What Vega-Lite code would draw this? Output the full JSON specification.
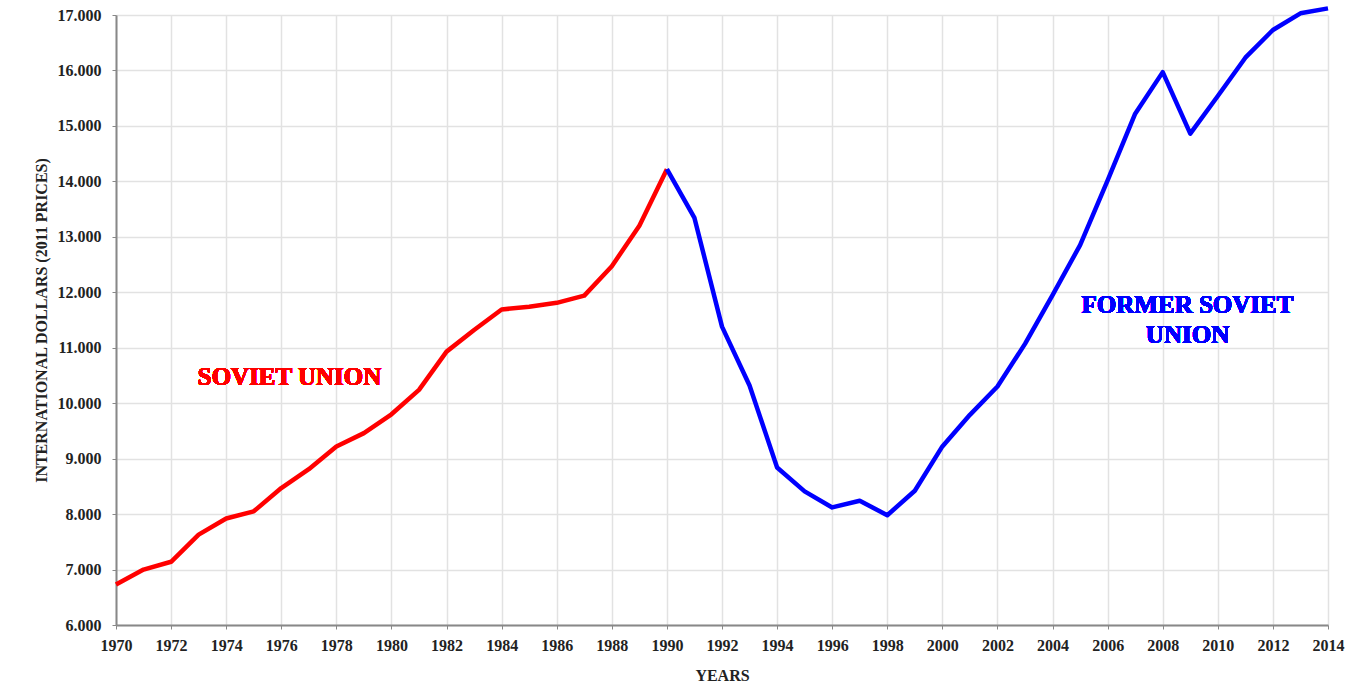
{
  "$schema": "https://vega.github.io/schema/vega-lite/v6.json",
  "width": 1212,
  "height": 610,
  "autosize": {"type": "none"},
  "padding": {"left": 116, "top": 15, "right": 35, "bottom": 75},
  "background": "white",
  "config": {"view": {"stroke": null}},
  "data": {"values": [
    {"year": 1970, "gdp": 6730, "series": "Soviet Union"},
    {"year": 1971, "gdp": 7000, "series": "Soviet Union"},
    {"year": 1972, "gdp": 7140, "series": "Soviet Union"},
    {"year": 1973, "gdp": 7630, "series": "Soviet Union"},
    {"year": 1974, "gdp": 7920, "series": "Soviet Union"},
    {"year": 1975, "gdp": 8050, "series": "Soviet Union"},
    {"year": 1976, "gdp": 8470, "series": "Soviet Union"},
    {"year": 1977, "gdp": 8810, "series": "Soviet Union"},
    {"year": 1978, "gdp": 9220, "series": "Soviet Union"},
    {"year": 1979, "gdp": 9460, "series": "Soviet Union"},
    {"year": 1980, "gdp": 9800, "series": "Soviet Union"},
    {"year": 1981, "gdp": 10240, "series": "Soviet Union"},
    {"year": 1982, "gdp": 10930, "series": "Soviet Union"},
    {"year": 1983, "gdp": 11320, "series": "Soviet Union"},
    {"year": 1984, "gdp": 11690, "series": "Soviet Union"},
    {"year": 1985, "gdp": 11740, "series": "Soviet Union"},
    {"year": 1986, "gdp": 11810, "series": "Soviet Union"},
    {"year": 1987, "gdp": 11940, "series": "Soviet Union"},
    {"year": 1988, "gdp": 12470, "series": "Soviet Union"},
    {"year": 1989, "gdp": 13200, "series": "Soviet Union"},
    {"year": 1990, "gdp": 14220, "series": "Soviet Union"},
    {"year": 1990, "gdp": 14220, "series": "Former Soviet Union"},
    {"year": 1991, "gdp": 13340, "series": "Former Soviet Union"},
    {"year": 1992, "gdp": 11380, "series": "Former Soviet Union"},
    {"year": 1993, "gdp": 10320, "series": "Former Soviet Union"},
    {"year": 1994, "gdp": 8840, "series": "Former Soviet Union"},
    {"year": 1995, "gdp": 8410, "series": "Former Soviet Union"},
    {"year": 1996, "gdp": 8120, "series": "Former Soviet Union"},
    {"year": 1997, "gdp": 8240, "series": "Former Soviet Union"},
    {"year": 1998, "gdp": 7980, "series": "Former Soviet Union"},
    {"year": 1999, "gdp": 8420, "series": "Former Soviet Union"},
    {"year": 2000, "gdp": 9220, "series": "Former Soviet Union"},
    {"year": 2001, "gdp": 9790, "series": "Former Soviet Union"},
    {"year": 2002, "gdp": 10300, "series": "Former Soviet Union"},
    {"year": 2003, "gdp": 11070, "series": "Former Soviet Union"},
    {"year": 2004, "gdp": 11950, "series": "Former Soviet Union"},
    {"year": 2005, "gdp": 12850, "series": "Former Soviet Union"},
    {"year": 2006, "gdp": 14020, "series": "Former Soviet Union"},
    {"year": 2007, "gdp": 15220, "series": "Former Soviet Union"},
    {"year": 2008, "gdp": 15970, "series": "Former Soviet Union"},
    {"year": 2009, "gdp": 14860, "series": "Former Soviet Union"},
    {"year": 2010, "gdp": 15540, "series": "Former Soviet Union"},
    {"year": 2011, "gdp": 16230, "series": "Former Soviet Union"},
    {"year": 2012, "gdp": 16730, "series": "Former Soviet Union"},
    {"year": 2013, "gdp": 17030, "series": "Former Soviet Union"},
    {"year": 2014, "gdp": 17120, "series": "Former Soviet Union"}
  ]},
  "layer": [
    {
      "mark": {"type": "line", "strokeWidth": 4.5, "clip": false, "strokeJoin": "round"},
      "encoding": {
        "x": {
          "field": "year", "type": "quantitative",
          "scale": {"domain": [1970, 2014], "nice": false, "zero": false},
          "axis": {
            "title": "YEARS",
            "values": [1970,1972,1974,1976,1978,1980,1982,1984,1986,1988,1990,1992,1994,1996,1998,2000,2002,2004,2006,2008,2010,2012,2014],
            "format": "d",
            "labelFlush": false,
            "labelFont": "Liberation Serif", "labelFontWeight": "bold", "labelFontSize": 16, "labelColor": "#222",
            "labelPadding": 8,
            "titleFont": "Liberation Serif", "titleFontWeight": "bold", "titleFontSize": 16, "titleColor": "#222",
            "titlePadding": 14,
            "grid": true, "gridColor": "#e2e2e2", "gridWidth": 1.5,
            "domainColor": "#888", "domainWidth": 2,
            "tickColor": "#888", "tickSize": 4
          }
        },
        "y": {
          "field": "gdp", "type": "quantitative",
          "scale": {"domain": [6000, 17000], "nice": false, "zero": false},
          "axis": {
            "title": "INTERNATIONAL DOLLARS (2011 PRICES)",
            "values": [6000,7000,8000,9000,10000,11000,12000,13000,14000,15000,16000,17000],
            "labelExpr": "replace(format(datum.value, ','), ',', '.')",
            "labelFlush": false,
            "labelFont": "Liberation Serif", "labelFontWeight": "bold", "labelFontSize": 16, "labelColor": "#222",
            "labelPadding": 11,
            "titleFont": "Liberation Serif", "titleFontWeight": "bold", "titleFontSize": 16, "titleColor": "#222",
            "titlePadding": 8,
            "grid": true, "gridColor": "#e2e2e2", "gridWidth": 1.5,
            "domainColor": "#888", "domainWidth": 2,
            "tickColor": "#888", "tickSize": 4
          }
        },
        "color": {
          "field": "series", "type": "nominal",
          "scale": {"domain": ["Soviet Union", "Former Soviet Union"], "range": ["#ff0000", "#0000ff"]},
          "legend": null
        },
        "detail": {"field": "series"}
      }
    },
    {
      "mark": {"type": "text", "font": "Liberation Serif", "fontWeight": "bold", "fontSize": 25, "color": "#ff0000", "align": "center", "baseline": "middle"},
      "encoding": {
        "x": {"datum": 1976.3, "type": "quantitative"},
        "y": {"datum": 10470, "type": "quantitative"},
        "text": {"value": "SOVIET UNION"}
      }
    },
    {
      "mark": {"type": "text", "font": "Liberation Serif", "fontWeight": "bold", "fontSize": 25, "color": "#0000ff", "align": "center", "baseline": "middle", "lineHeight": 30},
      "encoding": {
        "x": {"datum": 2008.9, "type": "quantitative"},
        "y": {"datum": 11770, "type": "quantitative"},
        "text": {"value": ["FORMER SOVIET", "UNION"]}
      }
    }
  ]
}
